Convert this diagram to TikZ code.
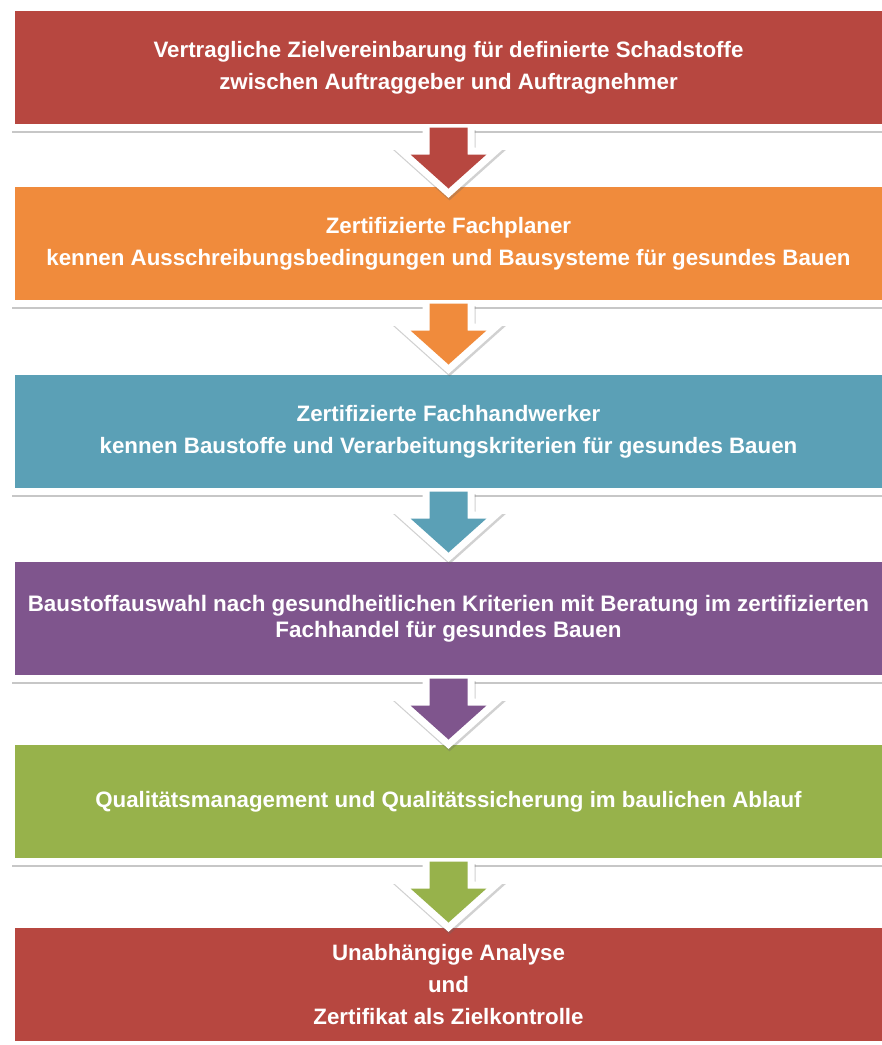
\documentclass[tikz,border=0pt]{standalone}
\usepackage{fontspec}
\setmainfont{Liberation Sans}
\usetikzlibrary{shadows}
\definecolor{boxred}{RGB}{183,71,64}
\definecolor{boxorange}{RGB}{240,139,60}
\definecolor{boxteal}{RGB}{91,160,182}
\definecolor{boxpurple}{RGB}{127,85,141}
\definecolor{boxgreen}{RGB}{151,178,75}
\begin{document}
\begin{tikzpicture}[x=1pt, y=-1pt, line join=miter,
  stage/.style={rectangle, draw=white, line width=7pt, minimum width=874pt, minimum height=120pt, inner sep=0pt, text=white, align=center, font=\bfseries\fontsize{22.3}{32}\selectfont, drop shadow={shadow xshift=.5pt, shadow yshift=-5.5pt, opacity=.4, fill=black!55}},
  down/.style={preaction={draw=black!60, opacity=.3, line width=14pt, transform canvas={xshift=1pt, yshift=-2.5pt}}, preaction={draw=white, line width=14pt}}]
\useasboundingbox (0,0) rectangle (882,1045);
\node[stage, fill=boxred] (b1) at (448.5,67.5) {Vertragliche Zielvereinbarung für definierte Schadstoffe\\zwischen Auftraggeber und Auftragnehmer};
\node[stage, fill=boxorange] (b2) at (448.5,243.5) {Zertifizierte Fachplaner\\kennen Ausschreibungsbedingungen und Bausysteme für gesundes Bauen};
\node[stage, fill=boxteal] (b3) at (448.5,431.5) {Zertifizierte Fachhandwerker\\kennen Baustoffe und Verarbeitungskriterien für gesundes Bauen};
\node[stage, fill=boxpurple, font=\bfseries\fontsize{22.4}{26}\selectfont] (b4) at (448.5,618.5) {Baustoffauswahl nach gesundheitlichen Kriterien mit Beratung im zertifizierten\\Fachhandel für gesundes Bauen};
\node[stage, fill=boxgreen] (b5) at (448.5,801.5) {Qualitätsmanagement und Qualitätssicherung im baulichen Ablauf};
\node[stage, fill=boxred] (b6) at (448.5,984.5) {Unabhängige Analyse\\und\\Zertifikat als Zielkontrolle};
\fill[down, boxred] ([xshift=-19pt,yshift=3.5pt]b1.south) -- ++(0,27) -- ++(-19,0) -- ++(38,34) -- ++(38,-34) -- ++(-19,0) -- ++(0,-27);
\fill[down, boxorange] ([xshift=-19pt,yshift=3.5pt]b2.south) -- ++(0,27) -- ++(-19,0) -- ++(38,34) -- ++(38,-34) -- ++(-19,0) -- ++(0,-27);
\fill[down, boxteal] ([xshift=-19pt,yshift=3.5pt]b3.south) -- ++(0,27) -- ++(-19,0) -- ++(38,34) -- ++(38,-34) -- ++(-19,0) -- ++(0,-27);
\fill[down, boxpurple] ([xshift=-19pt,yshift=3.5pt]b4.south) -- ++(0,27) -- ++(-19,0) -- ++(38,34) -- ++(38,-34) -- ++(-19,0) -- ++(0,-27);
\fill[down, boxgreen] ([xshift=-19pt,yshift=3.5pt]b5.south) -- ++(0,27) -- ++(-19,0) -- ++(38,34) -- ++(38,-34) -- ++(-19,0) -- ++(0,-27);
\end{tikzpicture}
\end{document}
